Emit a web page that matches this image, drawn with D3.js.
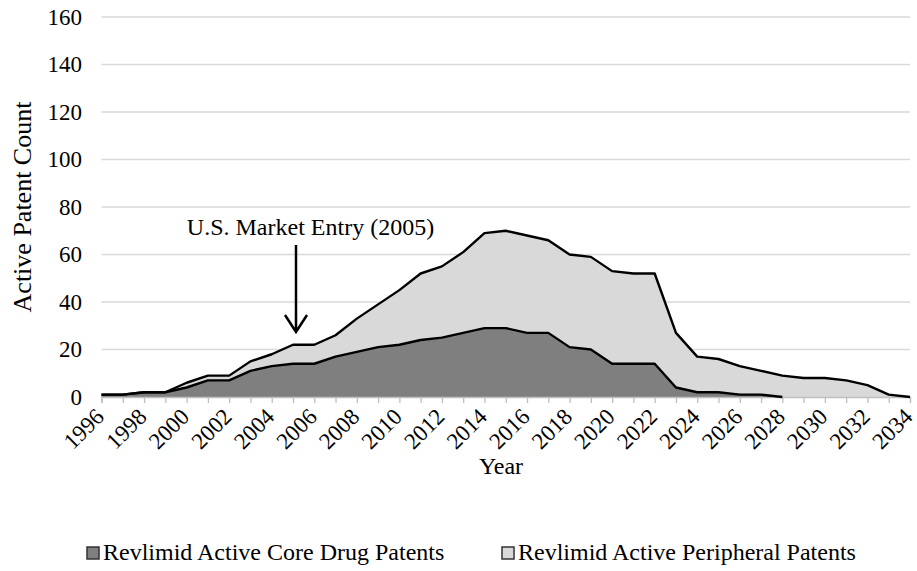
<!DOCTYPE html>
<html>
<head>
<meta charset="utf-8">
<script src="https://cdn.jsdelivr.net/npm/d3@7"></script>
<style>
  body { margin: 0; background: #fff; }
  svg { display: block; }
  svg text { font-family: "Liberation Serif", "Times New Roman", serif; fill: #000; }
</style>
</head>
<body>
<svg id="chart" width="917" height="571"></svg>
<script>
// chart data
const years = d3.range(1996, 2035);
const coreCounts = [1, 1, 2, 2, 4, 7, 7, 11, 13, 14, 14, 17, 19, 21, 22, 24, 25, 27, 29, 29,
    27, 27, 21, 20, 14, 14, 14, 4, 2, 2, 1, 1, 0, null, null, null, null, null, null];
const peripheralCounts = [0, 0, 0, 0, 2, 2, 2, 4, 5, 8, 8, 9, 14, 18, 23, 28, 30, 34, 40, 41,
    41, 39, 39, 39, 39, 38, 38, 23, 15, 14, 12, 10, 9, 8, 8, 7, 5, 1, 0];
const yTicks = [0, 20, 40, 60, 80, 100, 120, 140, 160];
const xLabelYears = d3.range(1996, 2035, 2);
const seriesNames = ["Revlimid Active Core Drug Patents", "Revlimid Active Peripheral Patents"];
const seriesColors = ["#7f7f7f", "#d9d9d9"];

const svg = d3.select("#chart");

const x = d3.scaleLinear().domain([1996, 2034]).range([101.5, 910]);
const y = d3.scaleLinear().domain([0, 160]).range([397, 17]);

const rows = years.map((yr, i) => ({ year: yr, core: coreCounts[i], peripheral: peripheralCounts[i] }));
const stacked = d3.stack()
    .keys(["core", "peripheral"])
    .value((d, k) => d[k] == null ? 0 : d[k])(rows);

// gridlines
svg.append("g")
    .selectAll("line")
    .data(yTicks.filter(t => t > 0))
    .join("line")
    .attr("x1", x.range()[0])
    .attr("x2", x.range()[1])
    .attr("y1", d => y(d))
    .attr("y2", d => y(d))
    .attr("stroke", "#d9d9d9")
    .attr("stroke-width", 1.3);

// areas
const area = d3.area()
    .x(d => x(d.data.year))
    .y0(d => y(d[0]))
    .y1(d => y(d[1]));

svg.append("g")
    .selectAll("path")
    .data(stacked)
    .join("path")
    .attr("d", area)
    .attr("fill", (d, i) => seriesColors[i]);

// x axis, a tick for every year
const xAxis = d3.axisBottom(x)
    .tickValues(years)
    .tickSize(6)
    .tickFormat("");

svg.append("g")
    .attr("transform", "translate(0," + y(0) + ")")
    .call(xAxis)
    .call(g => g.select(".domain").attr("stroke", "#bfbfbf").attr("stroke-width", 1.3))
    .call(g => g.selectAll(".tick line").attr("stroke", "#bfbfbf").attr("stroke-width", 1.3));

// top outlines of each series
const topLine = d3.line()
    .defined(d => d.data[d.key] != null)
    .x(d => x(d.data.year))
    .y(d => y(d[1]));

svg.append("g")
    .selectAll("path")
    .data(stacked)
    .join("path")
    .attr("d", s => topLine(s.map(d => Object.assign(d, { key: s.key }))))
    .attr("fill", "none")
    .attr("stroke", "#000")
    .attr("stroke-width", 2.4)
    .attr("stroke-linejoin", "round");

// x tick labels, rotated
svg.append("g")
    .selectAll("text")
    .data(xLabelYears)
    .join("text")
    .attr("transform", d => "translate(" + (x(d) + 4) + "," + (y(0) + 21) + ") rotate(-45)")
    .attr("text-anchor", "end")
    .attr("font-size", 23)
    .text(d => d);

// y tick labels
svg.append("g")
    .selectAll("text")
    .data(yTicks)
    .join("text")
    .attr("x", 82)
    .attr("y", d => y(d))
    .attr("dy", "0.34em")
    .attr("text-anchor", "end")
    .attr("font-size", 23)
    .text(d => d);

// axis titles
svg.append("text")
    .attr("transform", "translate(31,207) rotate(-90)")
    .attr("text-anchor", "middle")
    .attr("font-size", 26)
    .text("Active Patent Count");

svg.append("text")
    .attr("x", 501)
    .attr("y", 474)
    .attr("text-anchor", "middle")
    .attr("font-size", 24)
    .text("Year");

// market entry annotation
svg.append("text")
    .attr("x", 310.5)
    .attr("y", 235)
    .attr("text-anchor", "middle")
    .attr("font-size", 24)
    .text("U.S. Market Entry (2005)");

const ax = 296;
svg.append("path")
    .attr("d", "M" + ax + ",245 L" + ax + ",332 M" + (ax - 11) + ",315 L" + ax + ",332 L" + (ax + 11) + ",315")
    .attr("fill", "none")
    .attr("stroke", "#000")
    .attr("stroke-width", 2.5);

// legend
const legendX = [87, 502];
const legend = svg.append("g")
    .selectAll("g")
    .data(seriesNames)
    .join("g")
    .attr("transform", (d, i) => "translate(" + legendX[i] + ",560)");

legend.append("rect")
    .attr("x", 0)
    .attr("y", -13)
    .attr("width", 12)
    .attr("height", 12)
    .attr("fill", (d, i) => seriesColors[i])
    .attr("stroke", "#333")
    .attr("stroke-width", 1.5);

legend.append("text")
    .attr("x", 16)
    .attr("y", 0)
    .attr("font-size", 24)
    .text(d => d);
</script>
</body>
</html>
